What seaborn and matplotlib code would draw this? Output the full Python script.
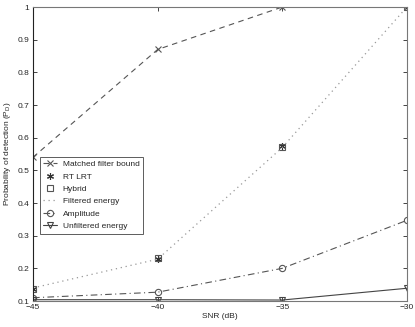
import matplotlib
matplotlib.use('Agg')
import matplotlib.pyplot as plt
import seaborn as sns
import pandas as pd

# data
snr = [-45, -40, -35, -30]
matched_filter = [0.54, 0.87, 1.0, 1.0]
rt_lrt = [0.137, 0.230, 0.575, 1.0]
hybrid = [0.137, 0.232, 0.572, 1.0]
filtered_energy = [0.14, 0.228, 0.57, 1.0]
amplitude = [0.11, 0.127, 0.20, 0.347]
unfiltered_energy = [0.104, 0.104, 0.103, 0.139]

series_names = ['Matched filter bound', 'RT LRT', 'Hybrid', 'Filtered energy',
                'Amplitude', 'Unfiltered energy']
series_values = [matched_filter, rt_lrt, hybrid, filtered_energy, amplitude, unfiltered_energy]

sns.set_style('ticks')
plt.rcParams['font.family'] = ['Liberation Sans', 'DejaVu Sans']
plt.rcParams['axes.unicode_minus'] = True

df = pd.DataFrame({'snr': snr * len(series_names),
                   'pd': sum(series_values, []),
                   'name': [n for n in series_names for _ in snr]})

# MATLAB-ish line specs
styles = {
    'Matched filter bound': dict(color='#555555', linestyle=(0, (5, 4)), marker='x', lw=0.8, ms=4, mfc='none'),
    'RT LRT': dict(color='#333333', linestyle='none', marker=(6, 2, 0), ms=5),
    'Hybrid': dict(color='#555555', linestyle='none', marker='s', ms=4, mfc='none'),
    'Filtered energy': dict(color='#999999', linestyle=(0, (1, 3)), marker=None, lw=0.9),
    'Amplitude': dict(color='#555555', linestyle=(0, (6, 3, 1, 3)), marker='o', lw=0.8, ms=4.5, mfc='none'),
    'Unfiltered energy': dict(color='#444444', linestyle='-', marker='v', lw=0.8, ms=4.5, mfc='none'),
}

fig = plt.figure(figsize=(4.15, 3.27), dpi=100)
ax = fig.add_axes([0.0795, 0.0795, 0.901, 0.899])

for name in series_names:
    sub = df[df['name'] == name]
    st = styles[name]
    sns.lineplot(data=sub, x='snr', y='pd', ax=ax, label=name, color=st['color'],
                 linestyle=st['linestyle'], marker=st['marker'], linewidth=st.get('lw', 0.8),
                 markersize=st.get('ms', 4), markerfacecolor=st.get('mfc', st['color']),
                 markeredgecolor=st['color'], markeredgewidth=0.8)

ax.set_xlim(-45, -30)
ax.set_ylim(0.1, 1.0)
ax.set_xticks(snr)
ax.set_xticklabels(['\u221245', '\u221240', '\u221235', '\u221230'])
ax.set_yticks([0.1, 0.2, 0.3, 0.4, 0.5, 0.6, 0.7, 0.8, 0.9, 1.0])
ax.set_yticklabels(['0.1', '0.2', '0.3', '0.4', '0.5', '0.6', '0.7', '0.8', '0.9', '1'])
ax.tick_params(direction='in', length=3, labelsize=6, right=True, top=True, width=0.6, pad=2.5)
ax.set_xlabel('SNR (dB)', fontsize=6, labelpad=1)
ax.set_ylabel('Probability of detection (P$_\\mathregular{D}$)', fontsize=6, labelpad=3)
for side in ['left', 'bottom', 'right', 'top']:
    ax.spines[side].set_linewidth(0.8)
ax.spines['left'].set_color('#222222')
ax.spines['bottom'].set_color('#777777')
ax.spines['right'].set_color('#777777')
ax.spines['top'].set_color('#777777')

leg = ax.legend(loc='upper left', bbox_to_anchor=(0.019, 0.49), fontsize=6, frameon=True,
                fancybox=False, handlelength=1.6, borderpad=0.4, labelspacing=0.55,
                handletextpad=0.7, borderaxespad=0)
leg.get_frame().set_edgecolor('#333333')
leg.get_frame().set_linewidth(0.7)

plt.savefig('out.png', dpi=100)
